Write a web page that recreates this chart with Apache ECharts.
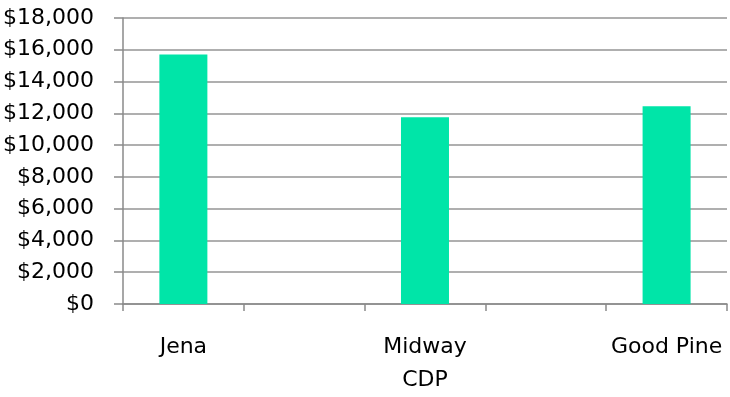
<!DOCTYPE html>
<html>
<head>
<meta charset="utf-8">
<title>Per capita income</title>
<script src="https://cdn.jsdelivr.net/npm/echarts@6/dist/echarts.min.js"></script>
<style>
  html, body { margin: 0; padding: 0; background: #fff; }
  #chart { width: 730px; height: 397px; }
</style>
</head>
<body>
<div id="chart"></div>
<script>
// Places along the axis; the unlabeled slots are spacer categories.
const places = ['Jena', '', 'Midway\nCDP', '', 'Good Pine'];
const income = [15700, '-', 11750, '-', 12440];
const yMax = 18000;
const yStep = 2000;

const fontFamily = 'DejaVu Sans, Verdana, sans-serif';
const chart = echarts.init(document.getElementById('chart'), null, { renderer: 'canvas' });

chart.setOption({
  animation: false,
  grid: { left: 122, right: 3, top: 18, bottom: 91, containLabel: false },
  xAxis: {
    type: 'category',
    data: places,
    boundaryGap: true,
    axisLine: { show: true, lineStyle: { color: '#8a8a8a', width: 1.5 } },
    axisTick: { show: true, alignWithLabel: false, interval: 0, length: 7, lineStyle: { color: '#8a8a8a', width: 1.5 } },
    axisLabel: {
      interval: 0,
      margin: 27,
      color: '#000',
      fontFamily: fontFamily,
      fontSize: 22,
      lineHeight: 33
    },
    splitLine: { show: false }
  },
  yAxis: {
    type: 'value',
    min: 0,
    max: yMax,
    interval: yStep,
    axisLine: { show: true, lineStyle: { color: '#8a8a8a', width: 1.5 } },
    axisTick: { show: true, length: 9, lineStyle: { color: '#8a8a8a', width: 1.5 } },
    axisLabel: {
      margin: 29,
      color: '#000',
      fontFamily: fontFamily,
      fontSize: 22,
      formatter: v => '$' + v.toLocaleString('en-US')
    },
    splitLine: { show: true, lineStyle: { color: '#959595', width: 1.5 } }
  },
  series: [{
    type: 'bar',
    data: income,
    barWidth: 48,
    itemStyle: { color: '#00e5a8' }
  }]
});
</script>
</body>
</html>
